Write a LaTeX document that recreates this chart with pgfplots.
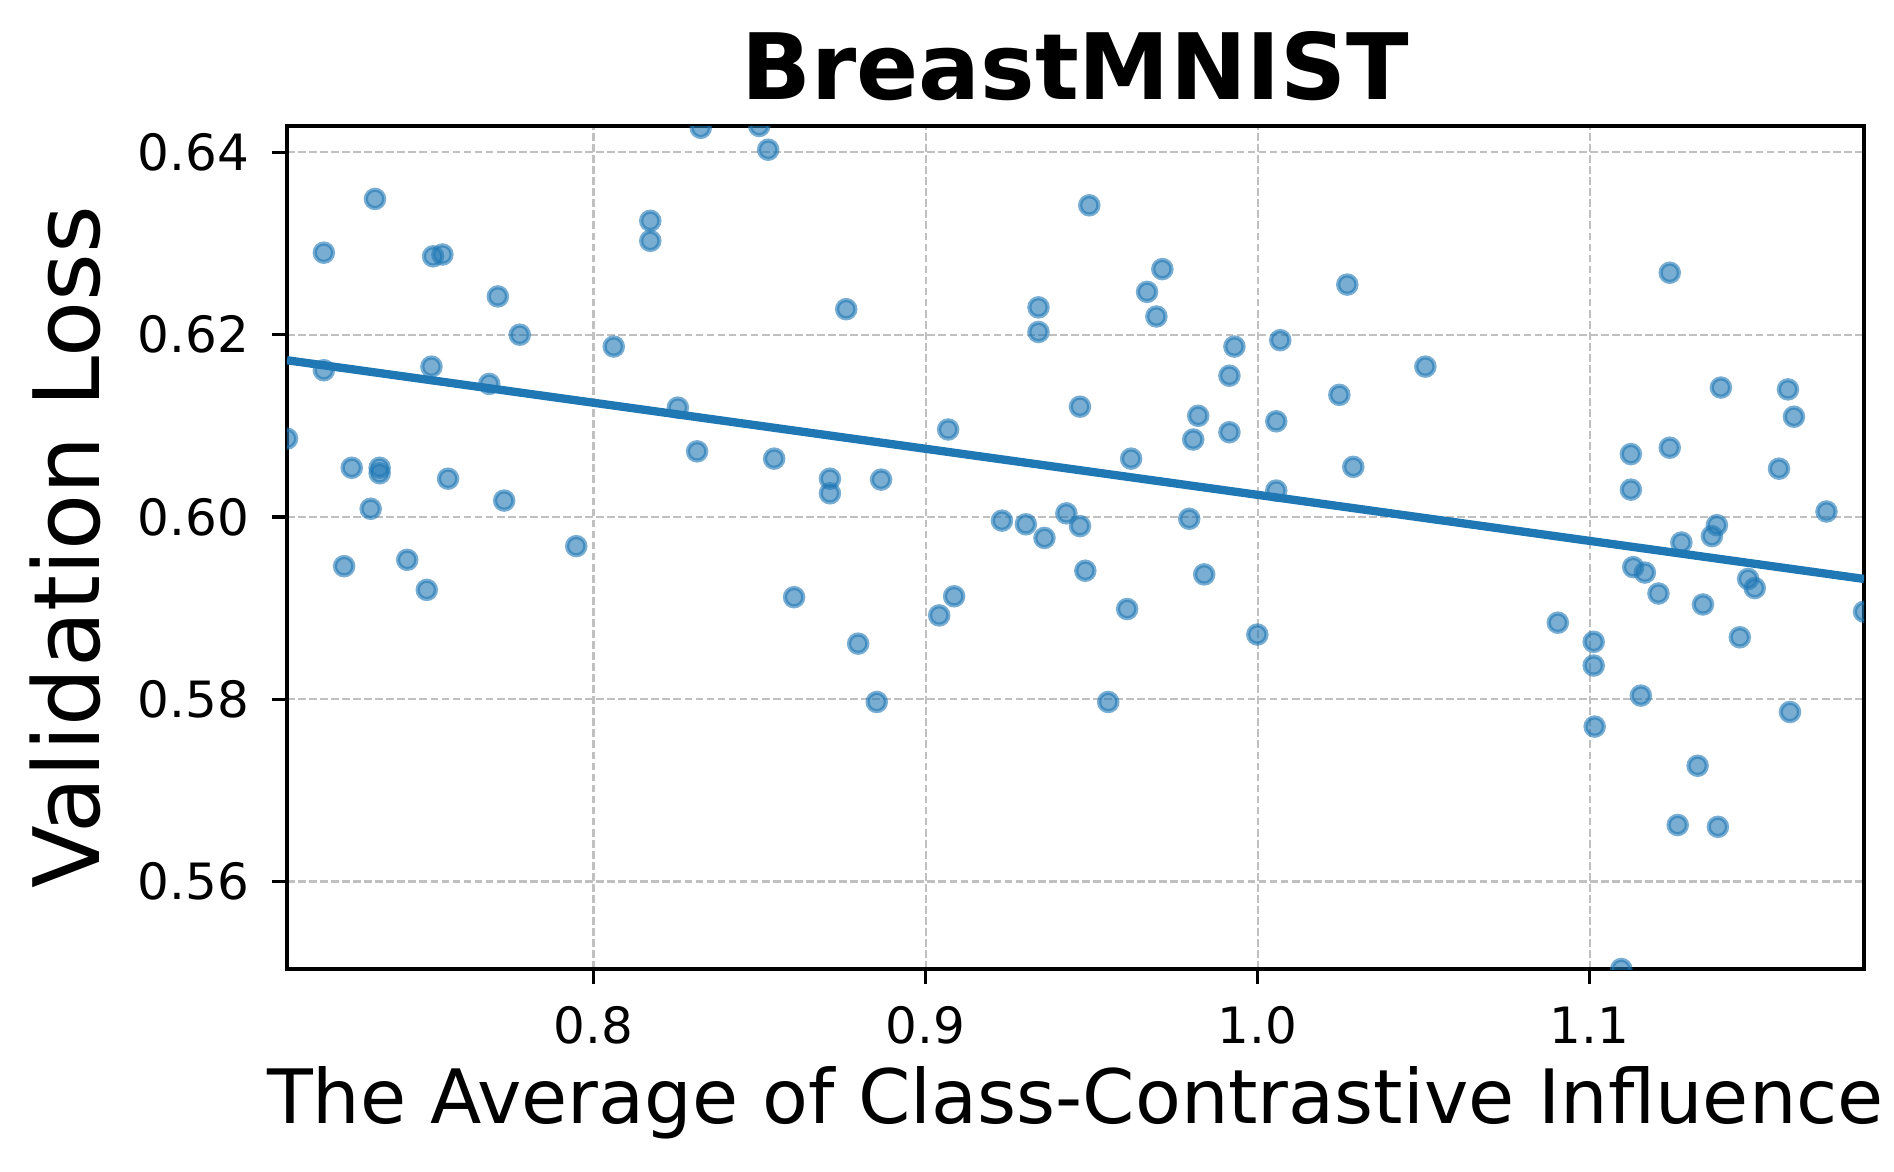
\documentclass[border=0pt]{standalone}
\usepackage{fontspec}
\setmainfont{DejaVu Sans}
\usepackage{pgfplots}
\usepackage{pgfplotstable}
\pgfplotsset{compat=1.18}

\definecolor{c0}{HTML}{1F77B4}
\definecolor{gridgray}{RGB}{192,192,192}

% Average class-contrastive influence vs. validation loss
\pgfplotstableread{
x y
0.7077 0.6086
0.7188 0.6290
0.7188 0.6161
0.7249 0.5946
0.7272 0.6054
0.7329 0.6009
0.7342 0.6349
0.7356 0.6054
0.7356 0.6048
0.7439 0.5953
0.7498 0.5920
0.7512 0.6165
0.7517 0.6286
0.7545 0.6288
0.7562 0.6042
0.7686 0.6146
0.7712 0.6242
0.7731 0.6018
0.7778 0.6200
0.7948 0.5968
0.8061 0.6187
0.8171 0.6325
0.8171 0.6303
0.8254 0.6120
0.8312 0.6072
0.8323 0.6427
0.8499 0.6429
0.8526 0.6403
0.8544 0.6064
0.8604 0.5912
0.8712 0.6042
0.8712 0.6026
0.8761 0.6228
0.8797 0.5861
0.8853 0.5797
0.8866 0.6041
0.9041 0.5892
0.9068 0.6096
0.9086 0.5913
0.9230 0.5996
0.9302 0.5992
0.9340 0.6230
0.9340 0.6203
0.9358 0.5977
0.9424 0.6004
0.9465 0.6121
0.9465 0.5990
0.9481 0.5941
0.9493 0.6342
0.9550 0.5797
0.9607 0.5899
0.9619 0.6064
0.9667 0.6247
0.9695 0.6220
0.9713 0.6272
0.9794 0.5998
0.9806 0.6085
0.9821 0.6111
0.9839 0.5937
0.9915 0.6093
0.9915 0.6155
0.9930 0.6187
0.9999 0.5871
1.0056 0.6105
1.0056 0.6029
1.0068 0.6194
1.0246 0.6134
1.0270 0.6255
1.0288 0.6055
1.0505 0.6165
1.0904 0.5884
1.1012 0.5863
1.1012 0.5837
1.1015 0.5770
1.1095 0.5504
1.1124 0.6069
1.1124 0.6030
1.1131 0.5945
1.1154 0.5804
1.1166 0.5939
1.1207 0.5916
1.1241 0.6268
1.1241 0.6076
1.1265 0.5662
1.1276 0.5972
1.1325 0.5727
1.1341 0.5904
1.1368 0.5979
1.1383 0.5991
1.1386 0.5660
1.1395 0.6142
1.1452 0.5868
1.1477 0.5932
1.1497 0.5922
1.1570 0.6053
1.1597 0.6140
1.1603 0.5786
1.1615 0.6110
1.1713 0.6006
1.1826 0.5896
}\points

% Least-squares fit line
\pgfplotstableread{
x y
0.7077 0.6172
1.1826 0.5932
}\fitline

\begin{document}
\begin{tikzpicture}
\useasboundingbox (-68.88pt,-48.48pt) rectangle (385.68pt,232.56pt);
\begin{axis}[
  at={(0,0)}, anchor=south west,
  width=378.48pt, height=202.32pt, scale only axis,
  xmin=0.7077, xmax=1.1826,
  ymin=0.5504, ymax=0.6429,
  clip marker paths=true,
  scaled ticks=false,
  xtick={0.8,0.9,1.0,1.1},
  ytick={0.56,0.58,0.60,0.62,0.64},
  xtick pos=bottom, ytick pos=left,
  tick align=outside,
  major tick length=3.5pt,
  every tick/.style={black, line width=0.8pt},
  axis line style={line width=0.8pt},
  grid=major,
  major grid style={draw=gridgray, line width=0.5pt, dash pattern=on 1.85pt off 0.8pt},
  /pgf/number format/assume math mode=true,
  tick label style={font=\fontsize{12}{14}\selectfont},
  xticklabel style={anchor=base, yshift=-14.4pt,
    /pgf/number format/.cd, fixed, fixed zerofill, precision=1},
  yticklabel style={anchor=east, inner sep=0pt, xshift=-5.4pt,
    /pgf/number format/.cd, fixed, fixed zerofill, precision=2},
  xlabel={The Average of Class-Contrastive Influence},
  xlabel style={font=\fontsize{18}{21}\selectfont,
    at={(axis description cs:0.5,0)}, anchor=base, yshift=-37pt},
  ylabel={Validation Loss},
  ylabel style={font=\fontsize{22}{26}\selectfont,
    at={(axis description cs:-0.1186,0.5)}, anchor=base, rotate=0},
  title={BreastMNIST},
  title style={font=\fontsize{22}{26}\selectfont\bfseries,
    at={(axis description cs:0.5,1)}, anchor=base, yshift=0.4pt},
]
\addplot[only marks, mark=*, mark size=2.2pt,
  mark options={draw=c0, fill=c0, draw opacity=0.6, fill opacity=0.6, line width=1pt}]
  table[x=x, y=y] {\points};
\addplot[no marks, color=c0, line width=2pt] table[x=x, y=y] {\fitline};
\end{axis}
\end{tikzpicture}
\end{document}
